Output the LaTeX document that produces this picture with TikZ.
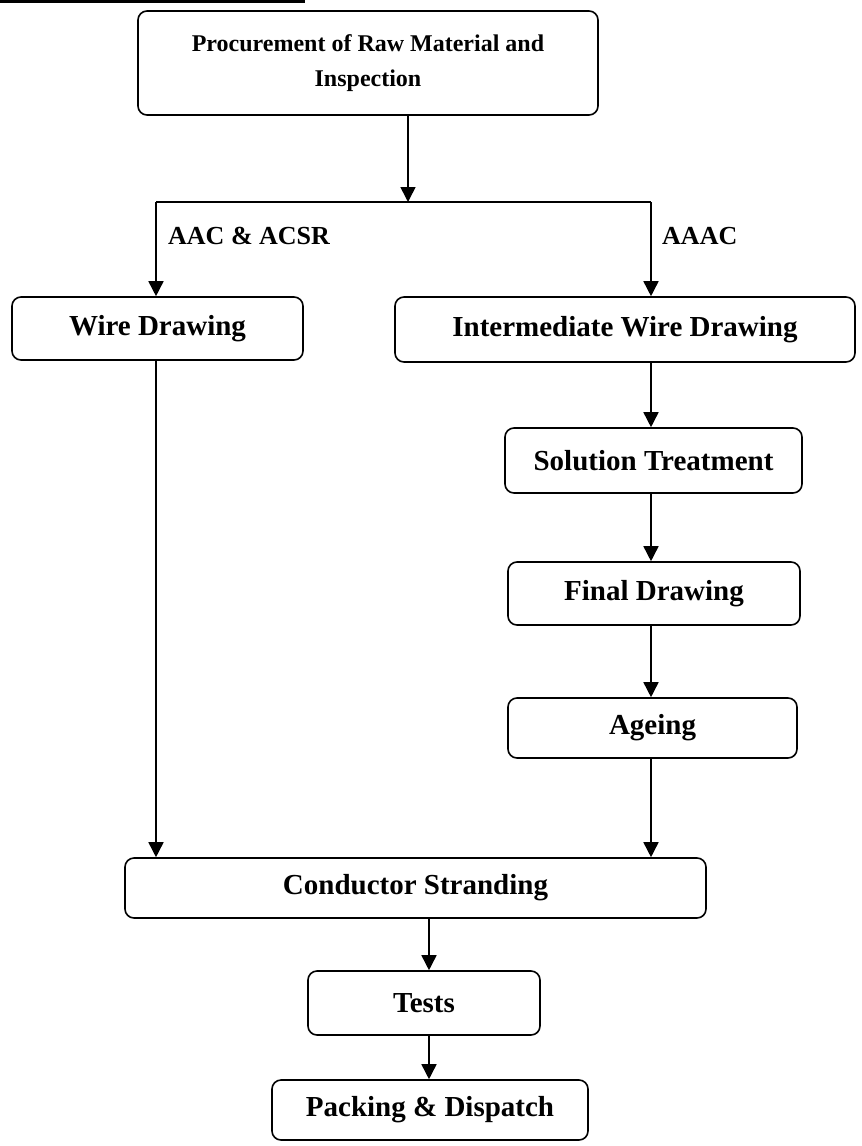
\documentclass[tikz,border=0pt]{standalone}
\usepackage{fontspec}
\setmainfont{Liberation Serif}
\usetikzlibrary{arrows.meta}
\tikzset{
  box/.style={draw, line width=1.6pt, rounded corners=9pt, inner sep=0pt, align=center,
    font=\fontsize{29}{35}\selectfont\bfseries},
  lbl/.style={inner sep=0pt, anchor=west, font=\fontsize{26}{30}\selectfont\bfseries},
  arr/.style={line width=1.6pt, -{Triangle[length=15pt,width=15pt]}},
  ln/.style={line width=1.6pt}
}
\begin{document}
\begin{tikzpicture}[x=1pt,y=-1pt]
\useasboundingbox (0,0) rectangle (862,1146);
\fill[white] (0,0) rectangle (862,1146);
\draw[line width=3pt] (0,1.5) -- (305,1.5);
\node[box, minimum width=460pt, minimum height=104pt, font=\fontsize{24}{35}\selectfont\bfseries] (proc) at (368,63) {Procurement of Raw Material and\\Inspection};
\node[box, minimum width=291pt, minimum height=63pt] (wire) at (157.5,328.5) {Wire Drawing};
\node[box, minimum width=460pt, minimum height=65pt] (inter) at (625,329.5) {Intermediate Wire Drawing};
\node[box, minimum width=297pt, minimum height=65pt] (sol) at (653.5,460.5) {Solution Treatment};
\node[box, minimum width=292pt, minimum height=63pt] (fin) at (654,593.5) {Final Drawing};
\node[box, minimum width=289pt, minimum height=60pt] (age) at (652.5,728) {Ageing};
\node[box, minimum width=581pt, minimum height=60pt] (cond) at (415.5,888) {Conductor Stranding};
\node[box, minimum width=232pt, minimum height=64pt] (tests) at (424,1003) {Tests};
\node[box, minimum width=316pt, minimum height=60pt] (pack) at (430,1110) {Packing \& Dispatch};
\node[lbl] (l1) at (168,236) {AAC \& ACSR};
\node[lbl] (l2) at (662,236) {AAAC};
\coordinate (split) at (408,202);
\coordinate (jl) at (156,202);
\coordinate (jr) at (651,202);
\coordinate (cx) at (429,0);
\draw[arr] (proc.south -| split) -- (split);
\draw[ln] (jl) -- (jr);
\draw[arr] (jl) -- (wire.north -| jl);
\draw[arr] (jr) -- (inter.north -| jr);
\draw[arr] (wire.south -| jl) -- (cond.north -| jl);
\draw[arr] (inter.south -| jr) -- (sol.north -| jr);
\draw[arr] (sol.south -| jr) -- (fin.north -| jr);
\draw[arr] (fin.south -| jr) -- (age.north -| jr);
\draw[arr] (age.south -| jr) -- (cond.north -| jr);
\draw[arr] (cond.south -| cx) -- (tests.north -| cx);
\draw[arr] (tests.south -| cx) -- (pack.north -| cx);
\end{tikzpicture}
\end{document}
